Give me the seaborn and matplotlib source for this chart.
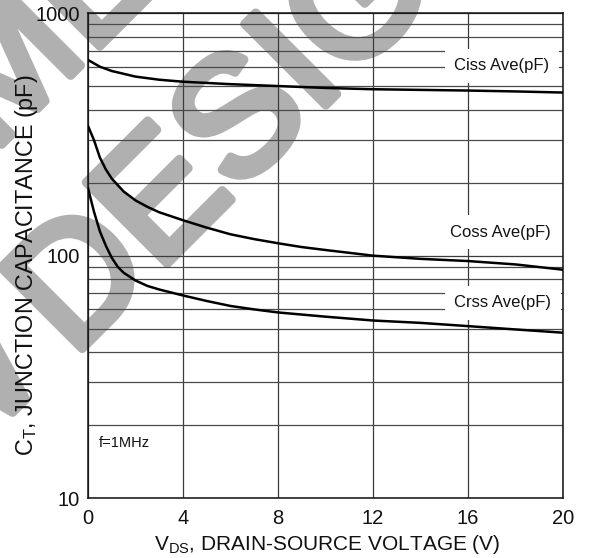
import matplotlib
matplotlib.use('Agg')
import matplotlib.pyplot as plt
import matplotlib.patheffects as pe
from matplotlib.ticker import LogLocator, FixedLocator, FixedFormatter, NullFormatter
import seaborn as sns
import pandas as pd

# values
vds_ciss = [0, 0.5, 1, 2, 3, 4, 6, 8, 10, 12, 14, 16, 18, 20]
ciss = [642, 602, 578, 548, 532, 522, 510, 501, 492, 486, 483, 480, 476, 471]

vds_coss = [0, 0.25, 0.5, 0.75, 1, 1.5, 2, 2.5, 3, 4, 5, 6, 7, 8, 9, 10, 12, 14, 16, 18, 20]
coss = [343, 300, 254, 227, 208, 184, 169, 159, 151, 140, 130.5, 122.5, 117, 112.5, 108.5, 105.5,
        100, 97, 95, 92, 87.5]

vds_crss = [0, 0.25, 0.5, 0.75, 1, 1.25, 1.5, 2, 2.5, 3, 4, 5, 6, 7, 8, 10, 12, 14, 16, 18, 20]
crss = [190, 152, 126, 110, 98, 90, 85, 79, 75, 72.5, 68.5, 65, 62, 60, 58.3, 56, 54, 52.8, 51.2, 49.6, 48.1]

series_labels = ['Ciss Ave(pF)', 'Coss Ave(pF)', 'Crss Ave(pF)']
label_pos = [(17.43, 607), (17.35, 125), (17.47, 63.8)]

x_ticks = [0, 4, 8, 12, 16, 20]
y_ticks = [10, 100, 1000]
y_tick_labels = ['10', '100', '1000']

df = pd.concat([
    pd.DataFrame({'VDS': vds_ciss, 'C': ciss, 'series': 'Ciss'}),
    pd.DataFrame({'VDS': vds_coss, 'C': coss, 'series': 'Coss'}),
    pd.DataFrame({'VDS': vds_crss, 'C': crss, 'series': 'Crss'}),
], ignore_index=True)

sns.set_style('white')
plt.rcParams['font.family'] = ['Liberation Sans', 'DejaVu Sans']
plt.rcParams['mathtext.fontset'] = 'custom'
plt.rcParams['mathtext.rm'] = 'Liberation Sans'

W, H = 590, 558
fig = plt.figure(figsize=(W / 100, H / 100), dpi=100)
ax = fig.add_axes([88 / W, 1 - 498 / H, (563 - 88) / W, (498 - 13.3) / H])
ax.set_facecolor('none')


def fpos(px, py):
    return px / W, 1 - py / H


# background watermark (sits behind the axes)
wm_col = '#b0b0b0'
wm = dict(rotation=45, rotation_mode='anchor', fontsize=120,
          color=wm_col, zorder=-1,
          path_effects=[pe.withStroke(linewidth=6.5, foreground=wm_col)])
fig.text(*fpos(268, 102), 'DESIGN', ha='center', va='center', **wm)
fig.text(*fpos(50, 375), 'NEW', ha='right', va='baseline', **wm)
fig.text(*fpos(-8, 154), 'MENDED FOR', ha='left', va='baseline', **wm)
fig.text(*fpos(-8, 154), 'RECOM', ha='right', va='baseline', **wm)

sns.lineplot(data=df, x='VDS', y='C', hue='series',
             palette={'Ciss': 'black', 'Coss': 'black', 'Crss': 'black'},
             sort=False, estimator=None, legend=False, linewidth=1.8,
             ax=ax, zorder=3)

ax.set_yscale('log')
ax.set_xlim(0, 20)
ax.set_ylim(10, 1000)
ax.xaxis.set_major_locator(FixedLocator(x_ticks))
ax.yaxis.set_major_locator(FixedLocator(y_ticks))
ax.yaxis.set_major_formatter(FixedFormatter(y_tick_labels))
ax.yaxis.set_minor_locator(LogLocator(base=10, subs=range(2, 10)))
ax.yaxis.set_minor_formatter(NullFormatter())

ax.set_axisbelow(True)
ax.grid(which='major', axis='both', color='#3c3c3c', linewidth=0.9)
ax.grid(which='minor', axis='y', color='#4a4a4a', linewidth=0.9)
ax.tick_params(axis='both', which='both', length=0, labelsize=14.5, colors='#111111')
ax.tick_params(axis='x', pad=8)
ax.tick_params(axis='y', pad=6)
for s in ax.spines.values():
    s.set_color('#111111')
    s.set_linewidth(1.1)

for lab, (lx, ly) in zip(series_labels, label_pos):
    ax.text(lx, ly, lab, ha='center', va='center', fontsize=12, color='#111111', zorder=5,
            bbox=dict(boxstyle='square,pad=0.55', fc='white', ec='none'))
ax.text(0.46, 16.9, 'f=1MHz', ha='left', va='center', fontsize=10.5, color='#111111', zorder=5)

ax.set_xlabel('')
ax.set_ylabel('')
fig.text(*fpos(327, 545), r'$\mathregular{V_{DS}}$, DRAIN-SOURCE VOLTAGE (V)',
         ha='center', va='center', fontsize=15, color='#111111')
fig.text(*fpos(27, 265), r'$\mathregular{C_{T}}$, JUNCTION CAPACITANCE (pF)',
         ha='center', va='center', rotation=90, fontsize=16.8, color='#111111')

fig.savefig('out.png', dpi=100)
plt.close(fig)
